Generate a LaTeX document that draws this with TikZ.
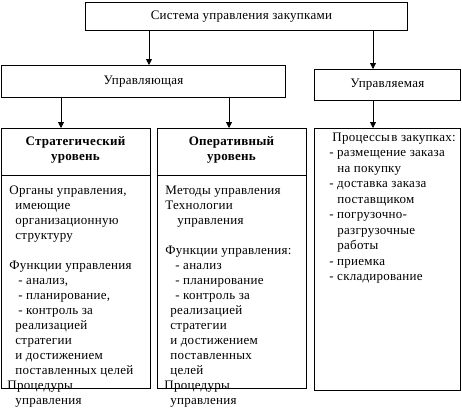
\documentclass[tikz,border=0pt]{standalone}
\usepackage{fontspec}
\setmainfont{Liberation Serif}[LetterSpace=2]
\usetikzlibrary{arrows.meta}

\tikzset{
  box/.style={draw, inner sep=0pt, anchor=north west},
  bodytext/.style={anchor=base west, inner sep=0pt, align=left},
  headtext/.style={anchor=base, inner sep=0pt, align=center, font=\bfseries\fontsize{13}{15}\selectfont}
}

\begin{document}
\begin{tikzpicture}[
    x=1pt, y=-1pt,
    line width=0.8pt,
    >={Triangle[width=6pt,length=6pt]},
    font=\fontsize{13}{15}\selectfont
]
  \useasboundingbox (0,0) rectangle (462,412);

  \node[box, minimum width=322pt, minimum height=28pt] (sys) at (85,2) {Система управления закупками\hspace*{10pt}};
  \node[box, minimum width=284pt, minimum height=32pt] (upr) at (1,65) {Управляющая};
  \node[box, minimum width=146pt, minimum height=31pt] (uprm) at (314,69) {Управляемая};

  \node[box, minimum width=149pt, minimum height=260pt] (strat) at (1,128) {};
  \node[box, minimum width=149pt, minimum height=260pt] (oper) at (157,128) {};
  \node[box, minimum width=146pt, minimum height=262pt] (proc) at (314,128) {};

  \draw[->] (149,0 |- sys.south) -- (149,0 |- upr.north);
  \draw[->] (373,0 |- sys.south) -- (373,0 |- uprm.north);
  \draw[->] (61,0 |- upr.south) -- (61,0 |- strat.north);
  \draw[->] (229,0 |- upr.south) -- (229,0 |- oper.north);
  \draw[->] (373,0 |- uprm.south) -- (373,0 |- proc.north);

  \draw (strat.west |- 0,175) -- (strat.east |- 0,175);
  \draw (oper.west |- 0,175) -- (oper.east |- 0,175);

  \node[headtext] (strathd) at (75.5,160) {Стратегический\\уровень};
  \node[headtext] (operhd) at (231.5,160) {Оперативный\\уровень};

  \node[bodytext] (stratbody) at (7,404) {%
    \hspace*{2pt}Органы управления,\\
    \hspace*{8pt}имеющие\\
    \hspace*{8pt}организационную\\
    \hspace*{8pt}структуру\\[15pt]
    \hspace*{2pt}Функции управления\\
    \hspace*{11pt}- анализ,\\
    \hspace*{11pt}- планирование,\\
    \hspace*{11pt}- контроль за\\
    \hspace*{8pt}реализацией\\
    \hspace*{8pt}стратегии\\
    \hspace*{8pt}и достижением\\
    \hspace*{8pt}поставленных целей\\
    Процедуры\\
    \hspace*{8pt}управления};

  \node[bodytext] (operbody) at (164,404) {%
    \hspace*{1pt}Методы управления\\
    \hspace*{1pt}Технологии\\
    \hspace*{13pt}управления\\[15pt]
    \hspace*{1pt}Функции управления:\\
    \hspace*{11pt}- анализ\\
    \hspace*{11pt}- планирование\\
    \hspace*{11pt}- контроль за\\
    \hspace*{6pt}реализацией\\
    \hspace*{6pt}стратегии\\
    \hspace*{6pt}и достижением\\
    \hspace*{6pt}поставленных\\
    \hspace*{6pt}целей\\
    Процедуры\\
    \hspace*{6pt}управления};

  \node[bodytext, font=\fontsize{13}{15.5}\selectfont] (procbody) at (329,280.5) {%
    \hspace*{3pt}Процессы\hspace{1.5pt}в закупках:\\
    - размещение заказа\\
    \hspace*{8pt}на покупку\\
    - доставка заказа\\
    \hspace*{8pt}поставщиком\\
    - погрузочно-\\
    \hspace*{8pt}разгрузочные\\
    \hspace*{8pt}работы\\
    - приемка\\
    - складирование};
\end{tikzpicture}
\end{document}
